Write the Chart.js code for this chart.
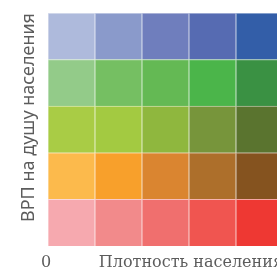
<!DOCTYPE html>
<html>
<head>
<meta charset="utf-8">
<script src="https://cdn.jsdelivr.net/npm/chart.js@4"></script>
<style>
  html, body { margin: 0; padding: 0; background: #fff; overflow: hidden; }
  #wrap { width: 277px; height: 271px; overflow: hidden; }
</style>
</head>
<body>
<div id="wrap"><canvas id="legendChart" width="340" height="271"></canvas></div>
<script>
// Классы плотности населения (столбцы, слева направо)
const densityClasses = ['1', '2', '3', '4', '5'];
// Классы ВРП на душу населения (строки, снизу вверх)
const gdpClasses = ['1', '2', '3', '4', '5'];
// Каждая клетка занимает одну единицу по высоте
const cellValues = [1, 1, 1, 1, 1];

// Цвета клеток по строкам (снизу вверх), слева направо
const rowRed = ['#f6a9af', '#f28a8b', '#f06f6e', '#f05550', '#ee3833'];
const rowOrange = ['#fcba4c', '#f8a02b', '#da8530', '#ad6f2b', '#85531f'];
const rowOlive = ['#a9cc45', '#a3ca41', '#8fb73e', '#77953b', '#5a742f'];
const rowGreen = ['#93cb89', '#75bf62', '#64b954', '#4bb54a', '#3a9143'];
const rowBlue = ['#aebadc', '#8a9acb', '#6f7ebd', '#566bb2', '#335ea8'];
const rowColors = [rowRed, rowOrange, rowOlive, rowGreen, rowBlue];

const xTitle = 'Плотность населения';
const yTitle = 'ВРП на душу населения';
const originLabel = '0';

// Светлый вариант цвета для разделителей
function lighten(hex, k) {
    const n = parseInt(hex.slice(1), 16);
    const r = (n >> 16) & 255, g = (n >> 8) & 255, b = n & 255;
    const m = c => Math.round(c + (255 - c) * k);
    return `rgb(${m(r)}, ${m(g)}, ${m(b)})`;
}

const textColor = '#5c5c5c';

const datasets = gdpClasses.map((cls, i) => ({
    label: cls,
    data: cellValues,
    backgroundColor: rowColors[i],
    borderColor: rowColors[i].map(c => lighten(c, 0.55)),
    borderWidth: { left: 1, right: 1, top: 1, bottom: 0 },
    borderSkipped: false,
    barPercentage: 1,
    categoryPercentage: 1
}));

new Chart(document.getElementById('legendChart'), {
    type: 'bar',
    data: {
        labels: densityClasses,
        datasets: datasets
    },
    options: {
        responsive: false,
        animation: false,
        devicePixelRatio: 1,
        layout: {
            padding: { top: 13, right: 57, bottom: 0, left: 0 }
        },
        plugins: {
            legend: { display: false },
            tooltip: { enabled: false }
        },
        scales: {
            x: {
                stacked: true,
                display: false
            },
            x2: {
                type: 'linear',
                position: 'bottom',
                min: 0,
                max: densityClasses.length,
                offset: false,
                grid: { display: false, drawTicks: false, offset: false },
                border: { display: false },
                afterBuildTicks: scale => { scale.ticks = [{ value: 0 }]; },
                afterFit: scale => { scale.height = 25; },
                ticks: {
                    padding: 7,
                    labelOffset: -2,
                    color: textColor,
                    font: { family: 'DejaVu Serif', size: 16 },
                    callback: () => originLabel
                },
                title: {
                    display: true,
                    text: xTitle,
                    align: 'end',
                    color: textColor,
                    font: { family: 'DejaVu Serif', size: 16 },
                    padding: { top: 0, bottom: -1 }
                }
            },
            y: {
                stacked: true,
                min: 0,
                max: gdpClasses.length,
                grid: { display: false },
                border: { display: false },
                ticks: { display: false },
                afterFit: scale => { scale.width = 48; },
                title: {
                    display: true,
                    text: yTitle,
                    align: 'end',
                    color: textColor,
                    font: { family: 'Noto Sans', size: 18 },
                    padding: { top: 18, bottom: 0 }
                }
            }
        }
    }
});
</script>
</body>
</html>
